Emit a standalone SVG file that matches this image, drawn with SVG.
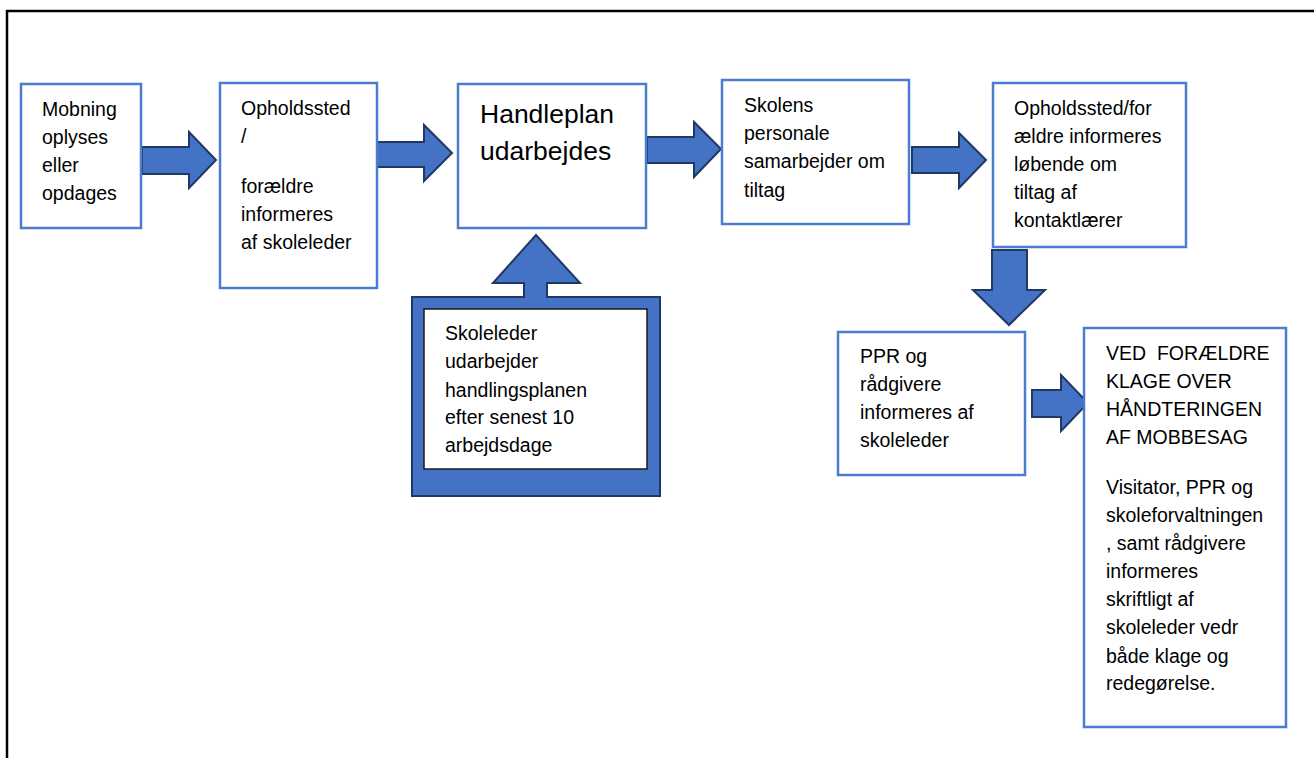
<svg xmlns="http://www.w3.org/2000/svg" width="1314" height="758" viewBox="0 0 1314 758">
<defs>
<style>
.box{fill:#fff;stroke:#4A7DD0;stroke-width:2.5}
.arr{fill:#4472C4;stroke:#1F3864;stroke-width:2;stroke-linejoin:miter}
.t{font-family:"Liberation Sans",Arial,sans-serif;font-size:19.5px;fill:#000}
.big{font-size:26.5px}
</style>
</defs>
<rect width="1314" height="758" fill="#fff"/>
<path d="M7,758 V11 H1314" fill="none" stroke="#000" stroke-width="2.5"/>

<g id="connectors">
<path class="arr" d="M142,147 H189 V132 L216,160 L189,188 V174 H142 Z"/>
<path class="arr" d="M377,142 H424 V125 L452,153 L424,181 V167 H377 Z"/>
<path class="arr" d="M647,137 H694 V122 L721,149 L694,177 V163 H647 Z"/>
<path class="arr" d="M912,147 H959 V133 L986,160 L959,188 V173 H912 Z"/>
<path class="arr" d="M992,250 H1027 V290 H1045 L1009,325 L973,290 H992 Z"/>
<path class="arr" d="M1032,390 H1061 V375 L1088,403 L1061,431 V417 H1032 Z"/>
</g>

<g id="n1">
<rect class="box" x="21" y="84" width="120" height="144"/>
<text class="t" x="42" y="116">Mobning</text>
<text class="t" x="42" y="144">oplyses</text>
<text class="t" x="42" y="172">eller</text>
<text class="t" x="42" y="200">opdages</text>
</g>

<g id="n2">
<rect class="box" x="220" y="83" width="157" height="205"/>
<text class="t" x="241" y="115">Opholdssted</text>
<text class="t" x="241" y="143">/</text>
<text class="t" x="241" y="193">forældre</text>
<text class="t" x="241" y="221">informeres</text>
<text class="t" x="241" y="249">af skoleleder</text>
</g>

<g id="n3">
<rect class="box" x="458" y="84" width="188" height="144"/>
<text class="t big" x="480" y="123">Handleplan</text>
<text class="t big" x="480" y="160">udarbejdes</text>
</g>

<g id="n4">
<rect class="box" x="722" y="80" width="187" height="144"/>
<text class="t" x="744" y="112">Skolens</text>
<text class="t" x="744" y="140">personale</text>
<text class="t" x="744" y="168">samarbejder om</text>
<text class="t" x="744" y="197">tiltag</text>
</g>

<g id="n5">
<rect class="box" x="993" y="83" width="193" height="164"/>
<text class="t" x="1014" y="115">Opholdssted/for</text>
<text class="t" x="1014" y="143">ældre informeres</text>
<text class="t" x="1014" y="171">løbende om</text>
<text class="t" x="1014" y="199">tiltag af</text>
<text class="t" x="1014" y="227">kontaktlærer</text>
</g>

<g id="n6">
<path class="arr" d="M412,297 H524 V283 H493 L536,235 L580,283 H547 V297 H660 V496 H412 Z"/>
<rect x="424" y="309" width="223" height="160" fill="#fff" stroke="#1a1a1a" stroke-width="1.5"/>
<text class="t" x="445" y="340">Skoleleder</text>
<text class="t" x="445" y="368">udarbejder</text>
<text class="t" x="445" y="397">handlingsplanen</text>
<text class="t" x="445" y="424">efter senest 10</text>
<text class="t" x="445" y="452">arbejdsdage</text>
</g>

<g id="n7">
<rect class="box" x="838" y="332" width="187" height="143"/>
<text class="t" x="860" y="363">PPR og</text>
<text class="t" x="860" y="391">rådgivere</text>
<text class="t" x="860" y="419">informeres af</text>
<text class="t" x="860" y="447">skoleleder</text>
</g>

<g id="n8">
<rect class="box" x="1084" y="328" width="202" height="399"/>
<text class="t" x="1106" y="360" xml:space="preserve">VED  FORÆLDRE</text>
<text class="t" x="1106" y="388">KLAGE OVER</text>
<text class="t" x="1106" y="416">HÅNDTERINGEN</text>
<text class="t" x="1106" y="444">AF MOBBESAG</text>
<text class="t" x="1106" y="494">Visitator, PPR og</text>
<text class="t" x="1106" y="522">skoleforvaltningen</text>
<text class="t" x="1106" y="550">, samt rådgivere</text>
<text class="t" x="1106" y="578">informeres</text>
<text class="t" x="1106" y="606">skriftligt af</text>
<text class="t" x="1106" y="634">skoleleder vedr</text>
<text class="t" x="1106" y="663">både klage og</text>
<text class="t" x="1106" y="690">redegørelse.</text>
</g>
</svg>
